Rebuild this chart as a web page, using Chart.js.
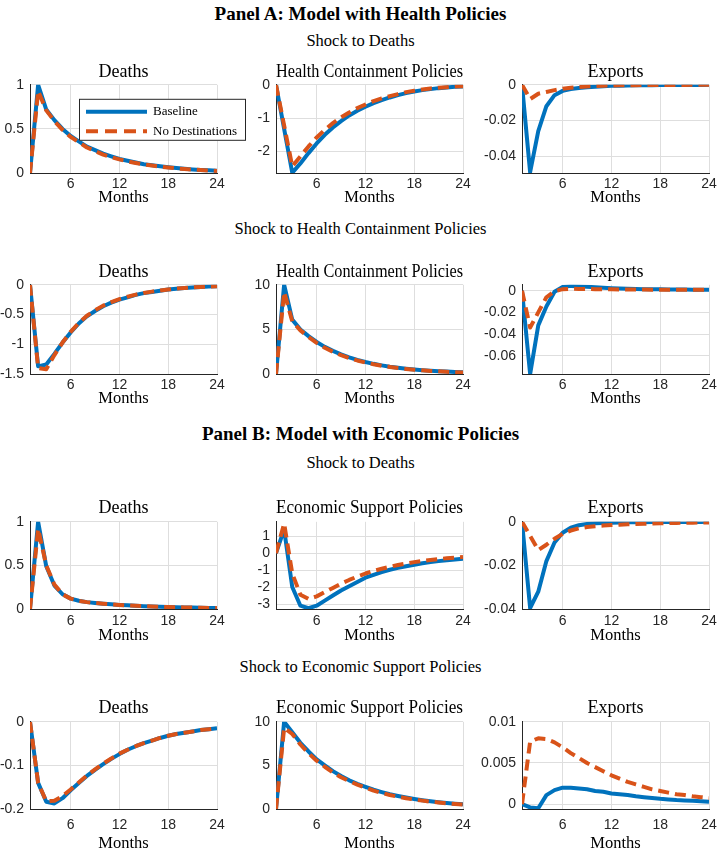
<!DOCTYPE html>
<html>
<head>
<meta charset="utf-8">
<script src="https://cdn.jsdelivr.net/npm/chart.js@4.4.1/dist/chart.umd.min.js"></script>
<style>
  body { margin: 0; background: #fff; width: 721px; height: 850px; position: relative; overflow: hidden; }
  .hd { position: absolute; left: 0; width: 721px; text-align: center; line-height: 20px; height: 20px;
        font-family: "Liberation Serif", serif; color: #000; white-space: nowrap; }
  .panel { font-weight: bold; font-size: 19px; }
  .shock { font-size: 16.5px; }
  canvas { position: absolute; }
</style>
</head>
<body>
<div class="hd panel" style="top:4px">Panel A: Model with Health Policies</div>
<div class="hd shock" style="top:31px">Shock to Deaths</div>
<div class="hd shock" style="top:219px">Shock to Health Containment Policies</div>
<div class="hd panel" style="top:424px">Panel B: Model with Economic Policies</div>
<div class="hd shock" style="top:453px">Shock to Deaths</div>
<div class="hd shock" style="top:657px">Shock to Economic Support Policies</div>

<script>
const BLUE = '#0072BD';
const RED  = '#D95319';

const months = [1, 2, 3, 4, 5, 6, 7, 8, 9, 10, 11, 12, 13, 14, 15, 16, 17, 18, 19, 20, 21, 22, 23, 24];
const xTicks = [6, 12, 18, 24];
const seriesNames = ['Baseline', 'No Destinations'];

// ── Panel A, shock to deaths ────────────────────────────────────────────────
const a1DeathsBase    = [0, 1, 0.72, 0.6, 0.5, 0.42, 0.36, 0.3, 0.26, 0.22, 0.19, 0.16, 0.14, 0.12, 0.1, 0.088, 0.077, 0.066, 0.057, 0.049, 0.042, 0.036, 0.031, 0.027];
const a1DeathsNoDest  = [0, 0.93, 0.71, 0.59, 0.49, 0.41, 0.35, 0.29, 0.25, 0.21, 0.18, 0.155, 0.133, 0.115, 0.098, 0.085, 0.073, 0.063, 0.054, 0.046, 0.04, 0.034, 0.029, 0.025];
const a1HealthBase    = [0, -1.32, -2.64, -2.36, -2.05, -1.76, -1.5, -1.28, -1.09, -0.92, -0.78, -0.66, -0.55, -0.46, -0.38, -0.31, -0.25, -0.2, -0.16, -0.13, -0.1, -0.08, -0.06, -0.05];
const a1HealthNoDest  = [0, -1.22, -2.45, -2.15, -1.85, -1.58, -1.35, -1.15, -0.98, -0.83, -0.7, -0.59, -0.49, -0.41, -0.34, -0.28, -0.22, -0.18, -0.14, -0.11, -0.09, -0.07, -0.05, -0.04];
const a1ExportsBase   = [0, -0.049, -0.026, -0.012, -0.0058, -0.0034, -0.0024, -0.0018, -0.0014, -0.0011, -0.0008, -0.0006, -0.0005, -0.0004, -0.0003, -0.00025, -0.0002, -0.00015, -0.00012, -0.0001, -0.00008, -0.00006, -0.00005, -0.00004];
const a1ExportsNoDest = [0, -0.008, -0.005, -0.004, -0.003, -0.0022, -0.0016, -0.0012, -0.0009, -0.0007, -0.0005, -0.0004, -0.0003, -0.00025, -0.0002, -0.00015, -0.00012, -0.0001, -0.00008, -0.00006, -0.00005, -0.00004, -0.00003, -0.00002];

// ── Panel A, shock to health containment policies ───────────────────────────
const a2DeathsBase    = [0, -1.37, -1.34, -1.16, -0.97, -0.8, -0.65, -0.53, -0.44, -0.36, -0.3, -0.25, -0.21, -0.17, -0.14, -0.12, -0.1, -0.08, -0.066, -0.055, -0.045, -0.037, -0.03, -0.025];
const a2DeathsNoDest  = [0, -1.4, -1.42, -1.18, -0.97, -0.79, -0.64, -0.52, -0.43, -0.35, -0.29, -0.24, -0.2, -0.165, -0.137, -0.115, -0.095, -0.078, -0.064, -0.053, -0.044, -0.036, -0.029, -0.024];
const a2HealthBase    = [0, 10, 6.1, 5.0, 4.25, 3.6, 3.05, 2.6, 2.2, 1.87, 1.59, 1.35, 1.15, 0.98, 0.83, 0.71, 0.61, 0.52, 0.44, 0.38, 0.33, 0.28, 0.24, 0.21];
const a2HealthNoDest  = [0, 9.2, 5.9, 4.9, 4.15, 3.5, 2.95, 2.5, 2.12, 1.8, 1.53, 1.3, 1.1, 0.94, 0.8, 0.68, 0.58, 0.49, 0.42, 0.36, 0.31, 0.26, 0.22, 0.19];
const a2ExportsBase   = [0, -0.077, -0.032, -0.0145, -0.001, 0.0035, 0.0045, 0.0042, 0.0037, 0.0032, 0.0028, 0.0024, 0.0021, 0.0019, 0.0017, 0.0015, 0.0014, 0.0013, 0.0012, 0.0011, 0.0011, 0.001, 0.001, 0.001];
const a2ExportsNoDest = [0, -0.034, -0.02, -0.006, -0.0005, 0.0015, 0.0018, 0.0017, 0.0016, 0.0015, 0.0014, 0.0013, 0.0012, 0.0012, 0.0011, 0.0011, 0.001, 0.001, 0.001, 0.001, 0.0009, 0.0009, 0.0009, 0.0009];

// ── Panel B, shock to deaths ────────────────────────────────────────────────
const b1DeathsBase    = [0, 1, 0.49, 0.27, 0.17, 0.12, 0.095, 0.08, 0.07, 0.062, 0.055, 0.048, 0.043, 0.038, 0.034, 0.03, 0.027, 0.024, 0.021, 0.019, 0.017, 0.015, 0.013, 0.012];
const b1DeathsNoDest  = [0, 0.92, 0.5, 0.28, 0.17, 0.12, 0.095, 0.08, 0.07, 0.061, 0.054, 0.047, 0.042, 0.037, 0.033, 0.029, 0.026, 0.023, 0.021, 0.019, 0.017, 0.015, 0.013, 0.012];
const b1EconBase      = [0, 1.4, -2.0, -3.1, -3.25, -3.1, -2.8, -2.5, -2.2, -1.95, -1.7, -1.45, -1.28, -1.12, -0.98, -0.87, -0.77, -0.68, -0.6, -0.53, -0.47, -0.42, -0.37, -0.33];
const b1EconNoDest    = [0, 1.75, -1.2, -2.45, -2.7, -2.55, -2.3, -2.05, -1.8, -1.58, -1.38, -1.2, -1.05, -0.92, -0.8, -0.7, -0.61, -0.53, -0.46, -0.4, -0.35, -0.3, -0.26, -0.22];
const b1ExportsBase   = [0, -0.0395, -0.032, -0.018, -0.0095, -0.005, -0.0027, -0.0016, -0.001, -0.0007, -0.0005, -0.0004, -0.0003, -0.00025, -0.0002, -0.00016, -0.00013, -0.0001, -0.00008, -0.00007, -0.00006, -0.00005, -0.00004, -0.00003];
const b1ExportsNoDest = [0, -0.0065, -0.013, -0.0105, -0.0078, -0.0055, -0.004, -0.003, -0.0024, -0.002, -0.0017, -0.0015, -0.0013, -0.0011, -0.001, -0.0009, -0.0008, -0.0007, -0.0006, -0.0005, -0.0004, -0.0004, -0.0003, -0.0003];

// ── Panel B, shock to economic support policies ─────────────────────────────
const b2DeathsBase    = [0, -0.14, -0.183, -0.187, -0.175, -0.157, -0.14, -0.124, -0.11, -0.097, -0.085, -0.074, -0.064, -0.056, -0.049, -0.043, -0.037, -0.032, -0.028, -0.025, -0.022, -0.019, -0.017, -0.015];
const b2DeathsNoDest  = [0, -0.14, -0.182, -0.181, -0.17, -0.155, -0.139, -0.123, -0.109, -0.096, -0.084, -0.073, -0.064, -0.056, -0.049, -0.043, -0.037, -0.032, -0.028, -0.025, -0.022, -0.019, -0.017, -0.015];
const b2EconBase      = [0, 10, 8.8, 7.6, 6.6, 5.7, 5.0, 4.35, 3.8, 3.3, 2.9, 2.55, 2.22, 1.95, 1.7, 1.5, 1.32, 1.16, 1.02, 0.9, 0.79, 0.7, 0.62, 0.55];
const b2EconNoDest    = [0, 9.3, 8.6, 7.4, 6.4, 5.55, 4.85, 4.2, 3.65, 3.2, 2.8, 2.45, 2.12, 1.85, 1.62, 1.42, 1.25, 1.1, 0.97, 0.86, 0.76, 0.67, 0.59, 0.52];
const b2ExportsBase   = [0, -0.0004, -0.0005, 0.0011, 0.0017, 0.002, 0.002, 0.0019, 0.0018, 0.0016, 0.0015, 0.0013, 0.0012, 0.0011, 0.00095, 0.00085, 0.00075, 0.00065, 0.00058, 0.0005, 0.00045, 0.0004, 0.00035, 0.0003];
const b2ExportsNoDest = [0, 0.0076, 0.008, 0.0079, 0.0075, 0.0069, 0.0062, 0.0056, 0.005, 0.0045, 0.004, 0.0035, 0.0031, 0.0027, 0.0024, 0.0021, 0.0018, 0.0016, 0.0014, 0.0012, 0.0011, 0.00095, 0.00085, 0.00075];

// y limits and tick values, per subplot
const a1DeathsRange = [0, 1],            a1DeathsTicks = [0, 0.5, 1];
const a1HealthRange = [-2.65, 0],        a1HealthTicks = [-2, -1, 0];
const a1ExportsRange = [-0.0495, 0],     a1ExportsTicks = [-0.04, -0.02, 0];
const a2DeathsRange = [-1.5, 0],         a2DeathsTicks = [-1.5, -1, -0.5, 0];
const a2HealthRange = [0, 10],           a2HealthTicks = [0, 5, 10];
const a2ExportsRange = [-0.077, 0.0055], a2ExportsTicks = [-0.06, -0.04, -0.02, 0];
const b1DeathsRange = [0, 1],            b1DeathsTicks = [0, 0.5, 1];
const b1EconRange = [-3.3, 1.85],        b1EconTicks = [-3, -2, -1, 0, 1];
const b1ExportsRange = [-0.04, 0],       b1ExportsTicks = [-0.04, -0.02, 0];
const b2DeathsRange = [-0.2, 0],         b2DeathsTicks = [-0.2, -0.1, 0];
const b2EconRange = [0, 10],             b2EconTicks = [0, 5, 10];
const b2ExportsRange = [-0.0006, 0.01],  b2ExportsTicks = [0, 0.005, 0.01];

// ── Layout (page pixels) ────────────────────────────────────────────────────
// side = room left of the plot for y labels (and right of it for the legend)
const COLS = [
  { L: 30,  R: 217, side: 42 },
  { L: 276, R: 463, side: 52 },
  { L: 522, R: 709, side: 52 },
];
const ROWS = [
  { T: 85,  B: 173, titleY: 72,  tickY: 184, monthsY: 198 },
  { T: 285, B: 374, titleY: 272, tickY: 385, monthsY: 399 },
  { T: 522, B: 609, titleY: 508, tickY: 621, monthsY: 636 },
  { T: 722, B: 809, titleY: 708, tickY: 825, monthsY: 844 },
];

const TITLE_SIZE = 18, MONTHS_SIZE = 16.5, TICK_SIZE = 14;
const GRID = '#dedede', AXIS = '#262626';

const plots = [
  { row: 0, col: 0, title: 'Deaths', base: a1DeathsBase, noDest: a1DeathsNoDest, range: a1DeathsRange, ticks: a1DeathsTicks, legend: true },
  { row: 0, col: 1, title: 'Health Containment Policies', base: a1HealthBase, noDest: a1HealthNoDest, range: a1HealthRange, ticks: a1HealthTicks },
  { row: 0, col: 2, title: 'Exports', base: a1ExportsBase, noDest: a1ExportsNoDest, range: a1ExportsRange, ticks: a1ExportsTicks },
  { row: 1, col: 0, title: 'Deaths', base: a2DeathsBase, noDest: a2DeathsNoDest, range: a2DeathsRange, ticks: a2DeathsTicks },
  { row: 1, col: 1, title: 'Health Containment Policies', base: a2HealthBase, noDest: a2HealthNoDest, range: a2HealthRange, ticks: a2HealthTicks },
  { row: 1, col: 2, title: 'Exports', base: a2ExportsBase, noDest: a2ExportsNoDest, range: a2ExportsRange, ticks: a2ExportsTicks },
  { row: 2, col: 0, title: 'Deaths', base: b1DeathsBase, noDest: b1DeathsNoDest, range: b1DeathsRange, ticks: b1DeathsTicks },
  { row: 2, col: 1, title: 'Economic Support Policies', base: b1EconBase, noDest: b1EconNoDest, range: b1EconRange, ticks: b1EconTicks },
  { row: 2, col: 2, title: 'Exports', base: b1ExportsBase, noDest: b1ExportsNoDest, range: b1ExportsRange, ticks: b1ExportsTicks },
  { row: 3, col: 0, title: 'Deaths', base: b2DeathsBase, noDest: b2DeathsNoDest, range: b2DeathsRange, ticks: b2DeathsTicks },
  { row: 3, col: 1, title: 'Economic Support Policies', base: b2EconBase, noDest: b2EconNoDest, range: b2EconRange, ticks: b2EconTicks },
  { row: 3, col: 2, title: 'Exports', base: b2ExportsBase, noDest: b2ExportsNoDest, range: b2ExportsRange, ticks: b2ExportsTicks },
];

// legend box drawn inside the first subplot, MATLAB style
const legendBoxPlugin = {
  id: 'legendBox',
  afterDraw(chart) {
    const { ctx, chartArea } = chart;
    const x = chartArea.left + 49, y = chartArea.top + 14, w = 167, h = 42;
    ctx.save();
    ctx.fillStyle = '#fff';
    ctx.fillRect(x, y, w, h);
    ctx.strokeStyle = AXIS;
    ctx.lineWidth = 1;
    ctx.strokeRect(x + 0.5, y + 0.5, w - 1, h - 1);
    const rows = [
      { y: y + 13, color: BLUE, dash: [] },
      { y: y + 32.5, color: RED, dash: [12, 7] },
    ];
    ctx.font = '13px "Liberation Serif", serif';
    ctx.textBaseline = 'middle';
    rows.forEach((r, i) => {
      ctx.strokeStyle = r.color;
      ctx.lineWidth = 4;
      ctx.setLineDash(r.dash);
      ctx.beginPath();
      ctx.moveTo(x + 7, r.y);
      ctx.lineTo(x + 68, r.y);
      ctx.stroke();
      ctx.setLineDash([]);
      ctx.fillStyle = '#000';
      ctx.fillText(seriesNames[i], x + 74, r.y);
    });
    ctx.restore();
  },
};

function makeChart(p) {
  const c = COLS[p.col], r = ROWS[p.row];
  const titleLH = TITLE_SIZE * 1.2;
  const monthsLH = MONTHS_SIZE * 1.2;
  const canvasTop = r.titleY - titleLH / 2;
  const titlePadBottom = r.T - canvasTop - titleLH;
  const xH = r.monthsY - r.B + monthsLH / 2;
  const canvasLeft = c.L - c.side;
  const width = 2 * c.side + (c.R - c.L);
  const height = (r.B - canvasTop) + xH;

  const canvas = document.createElement('canvas');
  canvas.width = Math.round(width);
  canvas.height = Math.round(height);
  canvas.style.left = canvasLeft + 'px';
  canvas.style.top = canvasTop + 'px';
  document.body.appendChild(canvas);

  const toXY = arr => months.map((m, i) => ({ x: m, y: arr[i] }));

  return new Chart(canvas.getContext('2d'), {
    type: 'line',
    data: {
      datasets: [
        { label: seriesNames[0], data: toXY(p.base), borderColor: BLUE, borderWidth: 4, order: 1 },
        { label: seriesNames[1], data: toXY(p.noDest), borderColor: RED, borderWidth: 4, borderDash: [11, 6], order: 0 },
      ],
    },
    plugins: p.legend ? [legendBoxPlugin] : [],
    options: {
      responsive: false,
      animation: false,
      events: [],
      elements: { point: { radius: 0 }, line: { tension: 0, fill: false, borderCapStyle: 'butt', borderJoinStyle: 'round' } },
      layout: { padding: { left: 0, right: c.side, top: 0, bottom: 0 } },
      plugins: {
        legend: { display: false },
        tooltip: { enabled: false },
        title: {
          display: true,
          fullSize: false,
          text: p.title,
          color: '#000',
          font: { family: '"Liberation Serif", serif', size: TITLE_SIZE, weight: 'normal', lineHeight: 1.2 },
          padding: { top: 0, bottom: titlePadBottom },
        },
      },
      scales: {
        x: {
          type: 'linear',
          min: 1,
          max: 24,
          afterBuildTicks: s => { s.ticks = xTicks.map(v => ({ value: v })); },
          afterFit: s => { s.height = xH; },
          ticks: {
            color: '#262626',
            font: { family: '"Liberation Sans", Arial, sans-serif', size: TICK_SIZE },
            padding: r.tickY - r.B - TICK_SIZE * 0.6,
            maxRotation: 0,
            callback: v => String(v),
          },
          grid: { color: GRID, lineWidth: 1, drawTicks: false },
          border: { color: AXIS, width: 1 },
          title: {
            display: true,
            text: 'Months',
            color: '#000',
            font: { family: '"Liberation Serif", serif', size: MONTHS_SIZE, lineHeight: 1.2 },
            padding: { top: 0, bottom: 0 },
          },
        },
        y: {
          min: p.range[0],
          max: p.range[1],
          afterBuildTicks: s => { s.ticks = p.ticks.map(v => ({ value: v })); },
          afterFit: s => { s.width = c.side; },
          ticks: {
            color: '#262626',
            font: { family: '"Liberation Sans", Arial, sans-serif', size: TICK_SIZE },
            padding: 6,
            callback: v => String(v),
          },
          grid: { color: GRID, lineWidth: 1, drawTicks: false },
          border: { color: AXIS, width: 1 },
        },
      },
    },
  });
}

plots.forEach(makeChart);
</script>
</body>
</html>
